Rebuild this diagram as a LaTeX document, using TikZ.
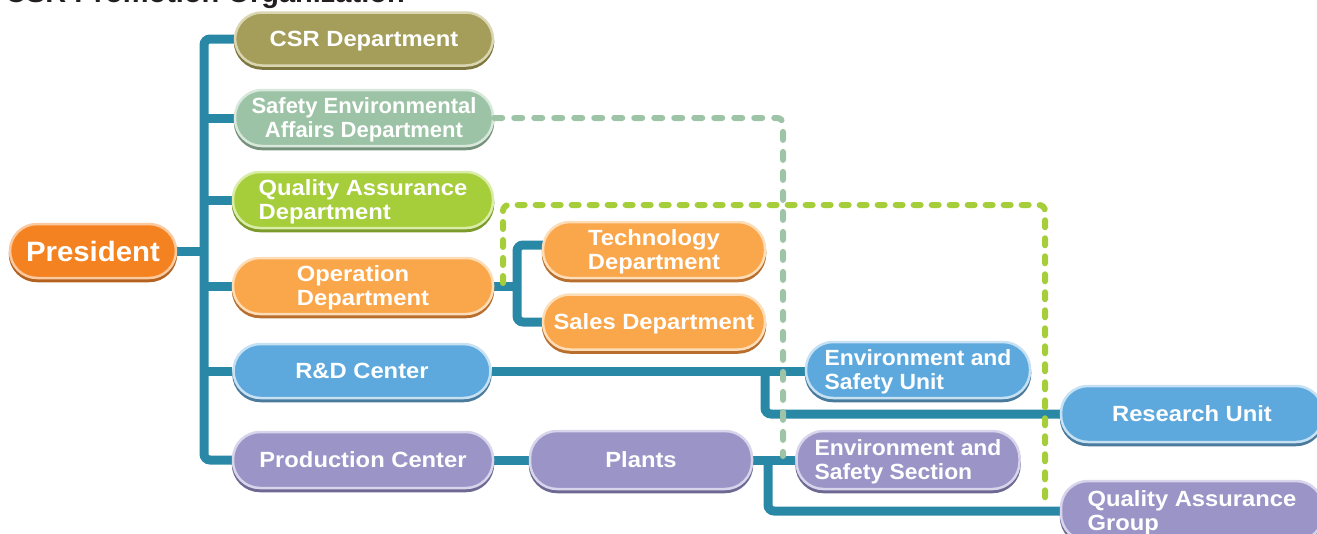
\documentclass[tikz,border=0pt]{standalone}
\usepackage{fontspec}
\setmainfont{Liberation Sans}
\newfontfamily\fwide[FakeStretch=1.08]{Liberation Sans}
\newfontfamily\fmidw[FakeStretch=1.04]{Liberation Sans}
\newfontfamily\fpres[FakeStretch=1.05]{Liberation Sans}
\usetikzlibrary{backgrounds,calc}
\definecolor{connc}{HTML}{2A88A7}
\definecolor{sagec}{HTML}{9EC4A7}
\definecolor{limec}{HTML}{A6CD3A}
\definecolor{titlec}{HTML}{231F20}
% node colours: fill / rim / shadow
\definecolor{presF}{HTML}{F58220}\definecolor{presR}{HTML}{FBC9A0}\definecolor{presS}{HTML}{B3621F}
\definecolor{csrF}{HTML}{A59E5B}\definecolor{csrR}{HTML}{DAD6B2}\definecolor{csrS}{HTML}{7E7840}
\definecolor{sefF}{HTML}{9DC3A6}\definecolor{sefR}{HTML}{D8E9DC}\definecolor{sefS}{HTML}{76927D}
\definecolor{qadF}{HTML}{A6CD3A}\definecolor{qadR}{HTML}{DAEDA8}\definecolor{qadS}{HTML}{7C9A2B}
\definecolor{opF}{HTML}{FAA64A}\definecolor{opR}{HTML}{FDDDB8}\definecolor{opS}{HTML}{B86E2D}
\definecolor{blF}{HTML}{5DA9DD}\definecolor{blR}{HTML}{C6E1F4}\definecolor{blS}{HTML}{4B7B9C}
\definecolor{puF}{HTML}{9B94C7}\definecolor{puR}{HTML}{D7D4EB}\definecolor{puS}{HTML}{6E6992}
\tikzset{
  box/.style={rectangle, rounded corners=27pt, minimum height=56, inner sep=0pt,
    text=white, line width=2.5pt, align=center, text depth=0pt,
    font=\fwide\fontsize{22}{24}\selectfont\bfseries},
  colbox/.style n args={3}{box, fill=#1, draw=#2,
    preaction={fill=#3, draw=#3, transform canvas={yshift=-3pt}}},
  presbox/.style={colbox={presF}{presR}{presS}},
  csrbox/.style={colbox={csrF}{csrR}{csrS}},
  sefbox/.style={colbox={sefF}{sefR}{sefS}},
  qadbox/.style={colbox={qadF}{qadR}{qadS}},
  opbox/.style={colbox={opF}{opR}{opS}},
  blbox/.style={colbox={blF}{blR}{blS}},
  pubox/.style={colbox={puF}{puR}{puS}},
  envtext/.style={font=\fmidw\fontsize{22}{24}\selectfont\bfseries, align=left},
  conn/.style={draw=connc, line width=9pt, rounded corners=6pt},
  sagedash/.style={draw=sagec, line width=6pt, line cap=round, dash pattern=on 8pt off 12pt, rounded corners=6pt},
  limedash/.style={draw=limec, line width=6pt, line cap=round, dash pattern=on 7pt off 11pt, rounded corners=6pt},
}
\begin{document}
\begin{tikzpicture}[x=1pt, y=-1pt]
\useasboundingbox (0,0) rectangle (1317,533);
\node[anchor=base west, inner sep=0pt, text=titlec, font=\fontsize{29}{30}\selectfont\bfseries] (title) at (5,2) {CSR Promotion Organization};

% nodes
\node[presbox, minimum width=166, minimum height=54, font=\fpres\fontsize{28}{30}\selectfont\bfseries] (pres) at (93,251) {President};
\node[csrbox, minimum width=258, minimum height=53] (csr) at (364,39) {CSR Department};
\node[sefbox, minimum width=258, font=\fontsize{22}{24}\selectfont\bfseries] (sef) at (364,118) {Safety Environmental\\Affairs Department};
\node[qadbox, minimum width=260, align=left] (qad) at (363,200) {Quality Assurance\\Department};
\node[opbox, minimum width=260, align=left] (oper) at (363,286) {Operation\\Department};
\node[blbox, minimum width=257, minimum height=54] (rd) at (362,371) {R\&D Center};
\node[pubox, minimum width=260] (prod) at (363,460) {Production Center};
\node[opbox, minimum width=222] (tech) at (654,250) {Technology\\Department};
\node[opbox, minimum width=222, minimum height=55] (sales) at (654,322) {Sales Department};
\node[blbox, minimum width=224, envtext] (envu) at (918,370) {Environment and\\Safety Unit};
\node[blbox, minimum width=262] (res) at (1192,414) {Research Unit};
\node[pubox, minimum width=222, minimum height=58] (plants) at (641,460) {Plants};
\node[pubox, minimum width=223, minimum height=58, envtext] (envs) at (908,460) {Environment and\\Safety Section};
\node[pubox, minimum width=262, minimum height=60, align=left] (qag) at (1192,511) {Quality Assurance\\Group};

% connectors
\coordinate (bx) at (204,0);
\coordinate (ox) at (517,0);
\coordinate (rx) at (765,0);
\coordinate (px) at (768,0);
\coordinate (techIn) at (543,245);
\begin{scope}[on background layer]
\draw[conn] (csr.west) -| (bx |- prod.west) -- (prod.west);
\draw[conn] (pres.east) -- (pres.east -| bx);
\draw[conn] (sef.west) -- (sef.west -| bx);
\draw[conn] (qad.west) -- (qad.west -| bx);
\draw[conn] (oper.west) -- (oper.west -| bx);
\draw[conn] (rd.west) -- (rd.west -| bx);
\draw[conn] (techIn) -| (ox |- sales.west) -- (sales.west);
\draw[conn] (oper.east) -- (oper.east -| ox);
\draw[conn] (rd.east) -- (rd.east -| envu.west);
\draw[conn] (rx |- rd.east) |- (res.west);
\draw[conn] (prod.east) -- (plants.west);
\draw[conn] (plants.east) -- (envs.west);
\draw[conn] (px |- plants.east) |- (qag.west);
\end{scope}

% dashed relations
\coordinate (sEnd) at (783,456);
\coordinate (gStart) at (503,283);
\coordinate (gA) at (503,205);
\coordinate (gB) at (1045,205);
\coordinate (gEnd) at (1045,505);
\draw[sagedash] (sef.east) -| (sEnd);
\draw[limedash] (gStart) -- (gA) -- (gB) -- (gEnd);
\end{tikzpicture}
\end{document}
